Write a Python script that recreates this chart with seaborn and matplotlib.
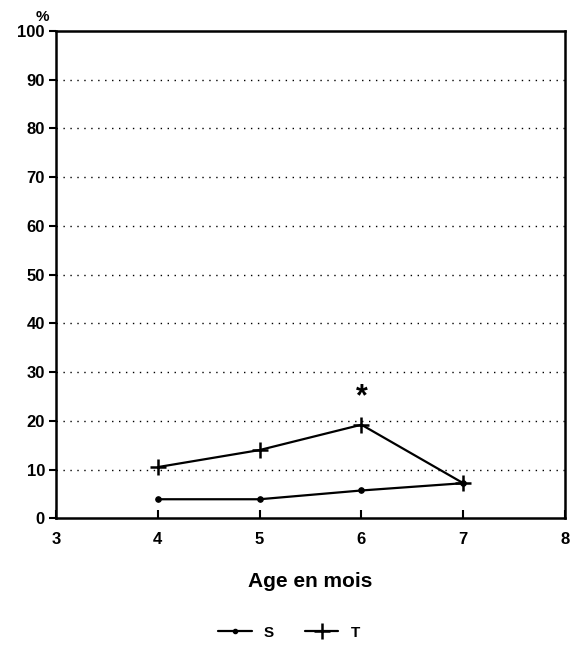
import matplotlib
matplotlib.use("Agg")
import matplotlib.pyplot as plt
import seaborn as sns
import pandas as pd
from matplotlib.lines import Line2D

ages = [4, 5, 6, 7]
s_values = [3.9, 3.9, 5.7, 7.2]
t_values = [10.5, 14.0, 19.2, 7.2]
x_ticks = [3, 4, 5, 6, 7, 8]
y_ticks = [0, 10, 20, 30, 40, 50, 60, 70, 80, 90, 100]

sns.set_style("white")
plt.rcParams['font.family'] = ['Liberation Sans', 'DejaVu Sans']
plt.rcParams['font.weight'] = 'bold'
plt.rcParams['text.color'] = 'black'
plt.rcParams['axes.labelcolor'] = 'black'
plt.rcParams['xtick.color'] = 'black'
plt.rcParams['ytick.color'] = 'black'

df = pd.DataFrame({
    'age': ages * 2,
    'val': s_values + t_values,
    'serie': ['S'] * len(ages) + ['T'] * len(ages),
})

fig = plt.figure(figsize=(5.78, 6.47), dpi=100)
ax = fig.add_axes([0.097, 0.199, 0.8805, 0.753])

for y in y_ticks[1:-1]:
    ax.axhline(y, color='black', linestyle=(0, (1, 4)), linewidth=1.0, zorder=0)

sns.lineplot(data=df[df.serie == 'S'], x='age', y='val', ax=ax, color='black',
             marker='o', markersize=4, markeredgecolor='black', linewidth=1.6, legend=False)
sns.lineplot(data=df[df.serie == 'T'], x='age', y='val', ax=ax, color='black',
             marker='+', markersize=11, markeredgewidth=1.8, markeredgecolor='black',
             linewidth=1.6, legend=False)

ax.text(6, 24.8, '*', ha='center', va='center', fontsize=22, fontweight='bold')

ax.set_xlim(3, 8)
ax.set_ylim(0, 100)
ax.set_xticks(x_ticks)
ax.set_yticks(y_ticks)
ax.set_xticklabels([str(v) for v in x_ticks], fontsize=12, fontweight='bold')
ax.set_yticklabels([str(v) for v in y_ticks], fontsize=12, fontweight='bold')
ax.tick_params(axis='x', bottom=True, direction='in', length=6, width=1.5, pad=10)
ax.tick_params(axis='y', left=True, direction='out', length=5, width=1.5, pad=3)
ax.set_xlabel('Age en mois', fontsize=15, fontweight='bold', labelpad=18)
ax.set_ylabel('')
for sp in ax.spines.values():
    sp.set_linewidth(1.8)
    sp.set_color('black')

fig.text(0.073, 0.974, '%', ha='center', va='center', fontsize=11, fontweight='bold')

handles = [
    Line2D([], [], color='black', marker='o', markersize=3, linewidth=1.6),
    Line2D([], [], color='black', marker='+', markersize=11, markeredgewidth=1.8, linewidth=1.6),
]
fig.legend(handles, ['S', 'T'], loc='center', bbox_to_anchor=(0.5, 0.022), ncol=2,
           frameon=False, handlelength=2.2, columnspacing=2.0,
           prop={'weight': 'bold', 'size': 11})

fig.savefig('out.png', dpi=100)
